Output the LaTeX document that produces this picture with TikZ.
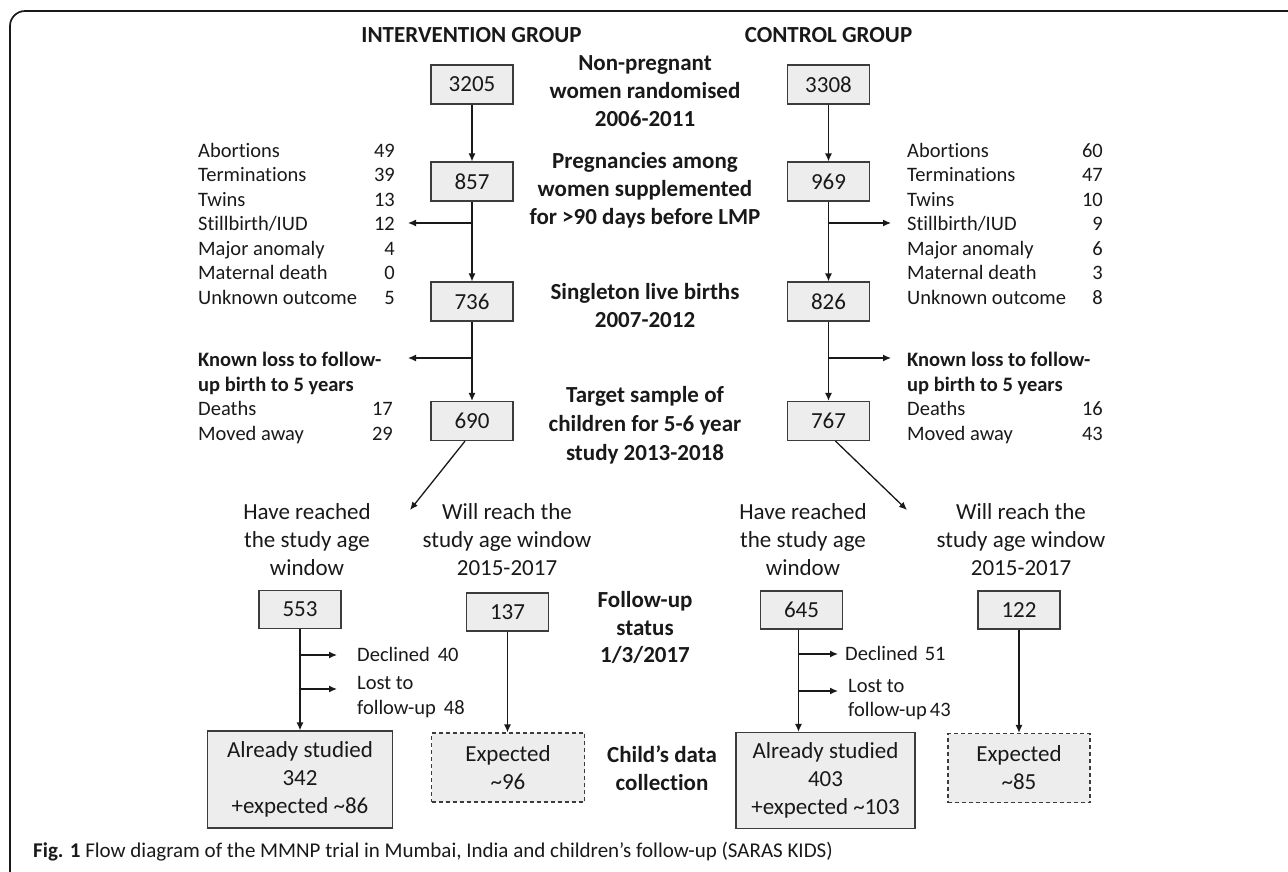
\documentclass[tikz,border=0pt]{standalone}
\usepackage{fontspec}
\setmainfont{Carlito}[Ligatures={NoCommon}]
\usetikzlibrary{arrows.meta,calc}
\definecolor{boxfill}{RGB}{237,237,237}
\definecolor{boxline}{RGB}{60,60,60}
\definecolor{ink}{RGB}{25,25,25}
\begin{document}
\begin{tikzpicture}[x=1pt,y=-1pt,
  every node/.style={text=ink, inner sep=0pt},
  nbox/.style={draw=boxline, fill=boxfill, line width=1.2pt, minimum width=82pt, minimum height=39pt, font=\fontsize{23}{28}\selectfont, align=center},
  dbox/.style={nbox, dash pattern=on 4pt off 3pt},
  arr/.style={draw=ink, line width=1.3pt, -{Latex[length=8pt,width=7pt]}},
  hdr/.style={font=\bfseries\fontsize{23}{28}\selectfont, anchor=base},
  mid/.style={font=\bfseries\fontsize{23}{28}\selectfont, anchor=base},
  sub/.style={font=\fontsize{23}{28}\selectfont, anchor=base},
  lst/.style={font=\fontsize{20.5}{24.5}\selectfont, anchor=base west},
  num/.style={font=\fontsize{20.5}{24.5}\selectfont, anchor=base east},
  lstb/.style={font=\bfseries\fontsize{20.5}{24.5}\selectfont, anchor=base west},
]
\useasboundingbox (0,0) rectangle (1288,871);
% frame
\draw[draw=ink, line width=1.7pt, rounded corners=15pt] (10,875) -- (10,11) -- (1292,11);

% headers
\node[hdr] (hI) at (471.5,42) {INTERVENTION GROUP};
\node[hdr] (hC) at (828.5,42) {CONTROL GROUP};

% centre labels
\node[mid] (np1) at (645,70.4) {Non-pregnant};
\node[mid] (np2) at (645,98.4) {women randomised};
\node[mid] (np3) at (645,126.4) {2006-2011};
\node[mid] (pg1) at (645,168.4) {Pregnancies among};
\node[mid] (pg2) at (645,196.4) {women supplemented};
\node[mid] (pg3) at (645,224.4) {for >90 days before LMP};
\node[mid] (sg1) at (645,299.4) {Singleton live births};
\node[mid] (sg2) at (645,327.4) {2007-2012};
\node[mid] (tg1) at (645,402.4) {Target sample of};
\node[mid] (tg2) at (645,431.4) {children for 5-6 year};
\node[mid] (tg3) at (645,460.4) {study 2013-2018};
\node[mid] (fu1) at (645,607.4) {Follow-up};
\node[mid] (fu2) at (645,635.4) {status};
\node[mid] (fu3) at (645,662.4) {1/3/2017};
\node[mid] (cd1) at (662,762.4) {Child’s data};
\node[mid] (cd2) at (662,790.4) {collection};

% boxes intervention
\node[nbox] (i1) at (472,84.5) {3205};
\node[nbox] (i2) at (472,181.5) {857};
\node[nbox] (i3) at (472,301.5) {736};
\node[nbox] (i4) at (472,421) {690};
\node[nbox, minimum height=38pt] (i5) at (300,609.5) {553};
\node[nbox, minimum height=38pt] (i6) at (507.5,612) {137};
\node[nbox, minimum width=185pt, minimum height=97pt] (i7) at (300,779.5) {Already studied\\342\\+expected \textasciitilde 86};
\node[dbox, minimum width=153pt, minimum height=69pt] (i8) at (508,767.5) {Expected\\\textasciitilde 96};

% boxes control
\node[nbox] (c1) at (828.5,84.5) {3308};
\node[nbox] (c2) at (828.5,181.5) {969};
\node[nbox] (c3) at (828.5,301.5) {826};
\node[nbox] (c4) at (828.5,421) {767};
\node[nbox, minimum height=38pt] (c5) at (801.5,610) {645};
\node[nbox, minimum height=38pt] (c6) at (1019,610) {122};
\node[nbox, minimum width=179pt, minimum height=96pt] (c7) at (825.5,780.5) {Already studied\\403\\+expected \textasciitilde 103};
\node[dbox, minimum width=142pt, minimum height=69pt] (c8) at (1019,768) {Expected\\\textasciitilde 85};

% sub labels
\node[sub] (ihr1) at (307,519.4) {Have reached};
\node[sub] (ihr2) at (307,547.4) {the study age};
\node[sub] (ihr3) at (307,575.4) {window};
\node[sub] (iwr1) at (507,519.4) {Will reach the};
\node[sub] (iwr2) at (507,547.4) {study age window};
\node[sub] (iwr3) at (507,575.4) {2015-2017};
\node[sub] (chr1) at (803,519.4) {Have reached};
\node[sub] (chr2) at (803,547.4) {the study age};
\node[sub] (chr3) at (803,575.4) {window};
\node[sub] (cwr1) at (1021,519.4) {Will reach the};
\node[sub] (cwr2) at (1021,547.4) {study age window};
\node[sub] (cwr3) at (1021,575.4) {2015-2017};

% left list
\node[lst] (la1) at (198,157) {Abortions};        \node[num] (ln1) at (395,157) {49};
\node[lst] (la2) at (198,181.5) {Terminations};   \node[num] (ln2) at (395,181.5) {39};
\node[lst] (la3) at (198,206) {Twins};            \node[num] (ln3) at (395,206) {13};
\node[lst] (la4) at (198,230.5) {Stillbirth/IUD}; \node[num] (ln4) at (395,230.5) {12};
\node[lst] (la5) at (198,255) {Major anomaly};    \node[num] (ln5) at (395,255) {4};
\node[lst] (la6) at (198,279.5) {Maternal death}; \node[num] (ln6) at (395,279.5) {0};
\node[lst] (la7) at (198,304) {Unknown outcome};  \node[num] (ln7) at (395,304) {5};
\node[lstb] (lk1) at (198,366.6) {Known loss to follow-};
\node[lstb] (lk2) at (198,391.1) {up birth to 5 years};
\node[lst] (ld1) at (198,415.6) {Deaths};      \node[num] (ldn1) at (393,415.6) {17};
\node[lst] (ld2) at (198,440.1) {Moved away};  \node[num] (ldn2) at (393,440.1) {29};

% right list
\node[lst] (ra1) at (907,157) {Abortions};        \node[num] (rn1) at (1103,157) {60};
\node[lst] (ra2) at (907,181.5) {Terminations};   \node[num] (rn2) at (1103,181.5) {47};
\node[lst] (ra3) at (907,206) {Twins};            \node[num] (rn3) at (1103,206) {10};
\node[lst] (ra4) at (907,230.5) {Stillbirth/IUD}; \node[num] (rn4) at (1103,230.5) {9};
\node[lst] (ra5) at (907,255) {Major anomaly};    \node[num] (rn5) at (1103,255) {6};
\node[lst] (ra6) at (907,279.5) {Maternal death}; \node[num] (rn6) at (1103,279.5) {3};
\node[lst] (ra7) at (907,304) {Unknown outcome};  \node[num] (rn7) at (1103,304) {8};
\node[lstb] (rk1) at (907,366.6) {Known loss to follow-};
\node[lstb] (rk2) at (907,391.1) {up birth to 5 years};
\node[lst] (rd1) at (907,415.6) {Deaths};      \node[num] (rdn1) at (1103,415.6) {16};
\node[lst] (rd2) at (907,440.1) {Moved away};  \node[num] (rdn2) at (1103,440.1) {43};

% follow-up losses
\node[lst] (ldec) at (357,661.6) {Declined\hspace{8pt}40};
\node[lst] (llo1) at (357,689.6) {Lost to};
\node[lst] (llo2) at (357,714.6) {follow-up\hspace{8pt}48};
\node[lst] (rdec) at (845,660.6) {Declined\hspace{7pt}51};
\node[lst] (rlo1) at (848,692.6) {Lost to};
\node[lst] (rlo2) at (848,716.6) {follow-up\hspace{3pt}43};

% caption
\node[anchor=base west, font=\fontsize{21}{25}\selectfont] (cap) at (33,857) {\textbf{Fig. 1} Flow diagram of the MMNP trial in Mumbai, India and children’s follow-up (SARAS KIDS)};

% coordinates for free ends
\coordinate (iL1) at (408,223);
\coordinate (iL2) at (408,358);
\coordinate (cR1) at (891,223);
\coordinate (cR2) at (891,358);
\coordinate (iTip) at (410,510);
\coordinate (cTip) at (907,510);
\coordinate (iD1) at (337,655);
\coordinate (iD2) at (337,689);
\coordinate (cD1) at (838,654);
\coordinate (cD2) at (838,691);

% intervention connectors
\draw[arr] (i1) -- (i2);
\draw[arr] (i2) -- (i3);
\draw[arr] (i2.south |- iL1) -- (iL1);
\draw[arr] (i3) -- (i4);
\draw[arr] (i3.south |- iL2) -- (iL2);
\draw[arr] ($(i4.south)+(-7,0)$) -- (iTip);
\draw[arr] (i5) -- (i5.south |- i7.north);
\draw[arr] (i5.south |- iD1) -- (iD1);
\draw[arr] (i5.south |- iD2) -- (iD2);
\draw[arr] (i6) -- (i6.south |- i8.north);

% control connectors
\draw[arr] (c1) -- (c2);
\draw[arr] (c2) -- (c3);
\draw[arr] (c2.south |- cR1) -- (cR1);
\draw[arr] (c3) -- (c4);
\draw[arr] (c3.south |- cR2) -- (cR2);
\draw[arr] ($(c4.south)+(7,0)$) -- (cTip);
\draw[arr] ($(c5.south)+(-3,0)$) -- ($(c5.south |- c7.north)+(-3,0)$);
\draw[arr] ($(c5.south |- cD1)+(-3,0)$) -- (cD1);
\draw[arr] ($(c5.south |- cD2)+(-3,0)$) -- (cD2);
\draw[arr] (c6) -- (c6.south |- c8.north);
\end{tikzpicture}
\end{document}
